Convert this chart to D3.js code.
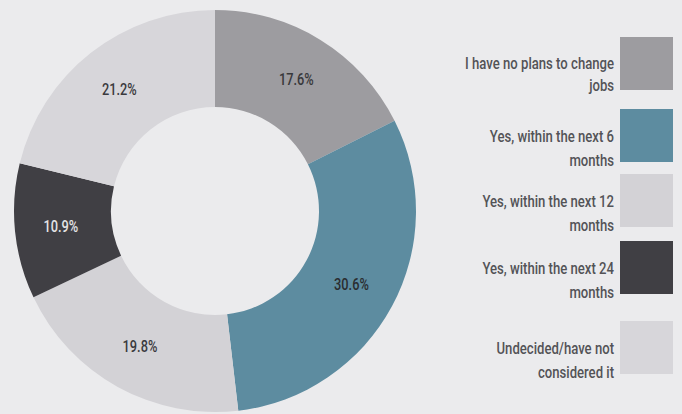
<!DOCTYPE html>
<html>
<head>
<meta charset="utf-8">
<script src="https://cdn.jsdelivr.net/npm/d3@7"></script>
<style>
  html, body { margin: 0; padding: 0; background: #ebebed; }
  svg { display: block; }
  text { font-family: Roboto, "Noto Sans", sans-serif; font-weight: 500; }
</style>
</head>
<body>
<svg id="chart" width="682" height="414"></svg>
<script>
// Survey answers: plans to change jobs
const categories = [
  ["I have no plans to change", "jobs"],
  ["Yes, within the next 6", "months"],
  ["Yes, within the next 12", "months"],
  ["Yes, within the next 24", "months"],
  ["Undecided/have not", "considered it"]
];
const shares = [17.6, 30.6, 19.8, 10.9, 21.2];
const sliceColors = ["#9d9ca0", "#5d8ca0", "#d3d2d6", "#403f44", "#d7d6da"];
const labelColors = ["#38383b", "#2a2d30", "#3a3a3d", "#e4e4e6", "#3a3a3d"];

const svg = d3.select("#chart");
const cx = 215, cy = 211, outerR = 201, innerR = 104, labelR = 155;
const squeeze = 0.8; // condensed look for the labels

const pie = d3.pie().sort(null).value(d => d).startAngle(0).endAngle(2 * Math.PI);
const arcs = pie(shares);
const arc = d3.arc().innerRadius(innerR).outerRadius(outerR);
const labelArc = d3.arc().innerRadius(labelR).outerRadius(labelR);

const donut = svg.append("g").attr("transform", `translate(${cx},${cy})`);
donut.selectAll("path")
  .data(arcs)
  .join("path")
  .attr("d", arc)
  .attr("fill", (d, i) => sliceColors[i]);

donut.selectAll("text")
  .data(arcs)
  .join("text")
  .attr("transform", d => `translate(${labelArc.centroid(d)}) scale(${squeeze},1)`)
  .attr("text-anchor", "middle")
  .attr("dy", "0.35em")
  .attr("font-size", 16)
  .attr("font-weight", 400)
  .attr("fill", (d, i) => labelColors[i])
  .text(d => d.value.toFixed(1) + "%");

// Legend: text right-aligned against square swatches
const swatchX = 620, swatchSize = 53, textRight = 614;
const legendTop = [37, 109, 174, 241, 321];
const legend = svg.append("g");
categories.forEach((lines, i) => {
  const y0 = legendTop[i];
  legend.append("rect")
    .attr("x", swatchX).attr("y", y0)
    .attr("width", swatchSize).attr("height", swatchSize)
    .attr("fill", sliceColors[i]);
  lines.forEach((line, j) => {
    const y = y0 + 33 + j * (i === 0 ? 22 : 24) - (i === 0 ? 1 : 0);
    legend.append("text")
      .attr("transform", `translate(${textRight},${y}) scale(0.82,1)`)
      .attr("text-anchor", "end")
      .attr("font-size", 16)
      .attr("fill", "#535357")
      .text(line);
  });
});
</script>
</body>
</html>
